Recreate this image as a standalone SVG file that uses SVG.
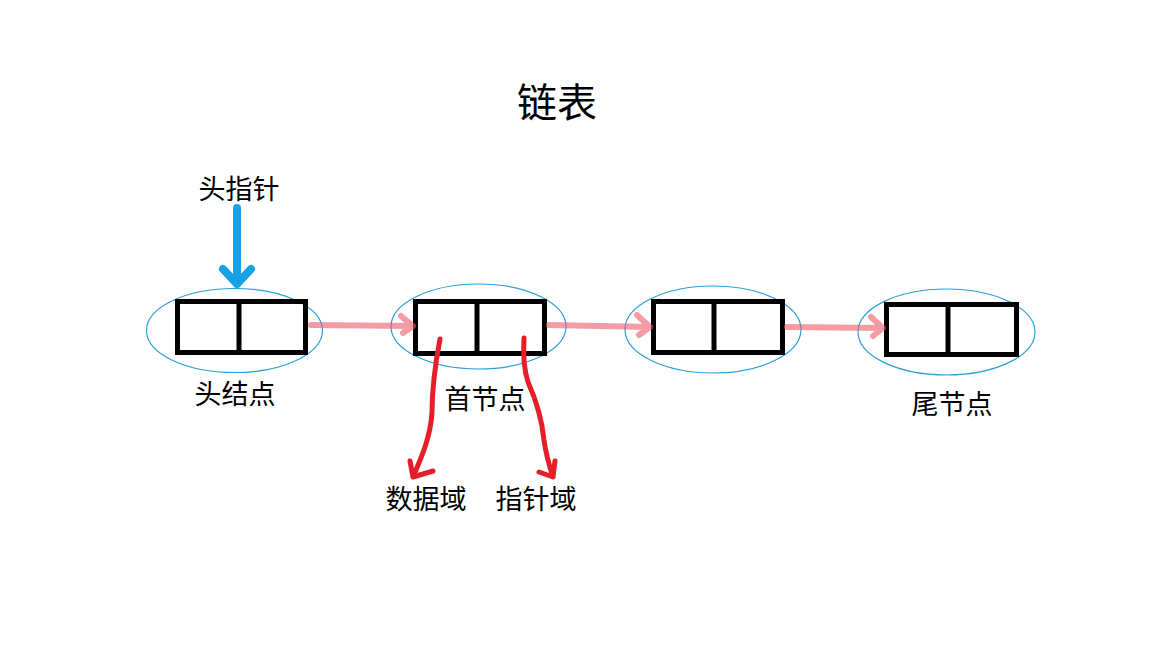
<svg xmlns="http://www.w3.org/2000/svg" width="1152" height="648" viewBox="0 0 1152 648">
<style>
.t{font-family:"Noto Sans CJK SC","Microsoft YaHei",sans-serif;fill:#000;text-anchor:middle;dominant-baseline:central}
.box{fill:none;stroke:#000;stroke-width:5}
.ell{fill:none;stroke:#2b9fd9;stroke-width:1.2}
.link{fill:none;stroke:#ec5a6a;stroke-opacity:0.6;stroke-width:6;stroke-linecap:round;stroke-linejoin:round}
.red{fill:none;stroke:#e41f2a;stroke-width:5;stroke-linecap:round;stroke-linejoin:round}
.blue{fill:none;stroke:#16a3e6;stroke-width:8;stroke-linecap:round;stroke-linejoin:round}
</style>
<rect width="1152" height="648" fill="#fff"/>
<text class="t" x="557" y="100" font-size="40">链表</text>
<g id="node1">
<ellipse class="ell" cx="234.5" cy="330.5" rx="88" ry="42"/>
<rect class="box" x="177.5" y="301.5" width="128" height="51"/>
<line class="box" x1="239" y1="301.5" x2="239" y2="352.5"/>
</g>
<g id="node2">
<ellipse class="ell" cx="478.5" cy="326.5" rx="87.5" ry="42.5"/>
<rect class="box" x="415.5" y="301.5" width="129" height="52"/>
<line class="box" x1="477" y1="301.5" x2="477" y2="353.5"/>
</g>
<g id="node3">
<ellipse class="ell" cx="713" cy="329.5" rx="88" ry="43.5"/>
<rect class="box" x="653.5" y="301.5" width="129" height="51"/>
<line class="box" x1="714" y1="301.5" x2="714" y2="352.5"/>
</g>
<g id="node4">
<ellipse class="ell" cx="946.5" cy="332" rx="88.5" ry="43"/>
<rect class="box" x="886.5" y="304.5" width="130" height="50"/>
<line class="box" x1="948" y1="304.5" x2="948" y2="354.5"/>
</g>
<g id="labels">
<text class="t" x="239" y="187" font-size="27">头指针</text>
<text class="t" x="235" y="392" font-size="27">头结点</text>
<text class="t" x="485" y="397" font-size="27">首节点</text>
<text class="t" x="952" y="402" font-size="27">尾节点</text>
<text class="t" x="426" y="497" font-size="27">数据域</text>
<text class="t" x="536" y="497" font-size="27">指针域</text>
</g>
<g id="connectors">
<path class="blue" d="M237 208 L237 284 M223 269 L237 284 L251 269"/>
<path class="link" d="M311 325 L413 326 M401 316 L413 326 L403 333"/>
<path class="link" d="M549 325 L650 327 M637 315 L650 327 L639 335"/>
<path class="link" d="M787 327 L883 328 M871 317 L883 328 L873 336"/>
<path class="red" d="M440 339 C436 360 432 390 432 413 C430 440 420 460 413 477 M410 461 L413 477 L433 471"/>
<path class="red" d="M524 338 C523 355 524 370 528 382 C536 400 542 420 544 440 C546 455 550 468 553 477 M539 472 L553 477 L555 461"/>
</g>
</svg>
